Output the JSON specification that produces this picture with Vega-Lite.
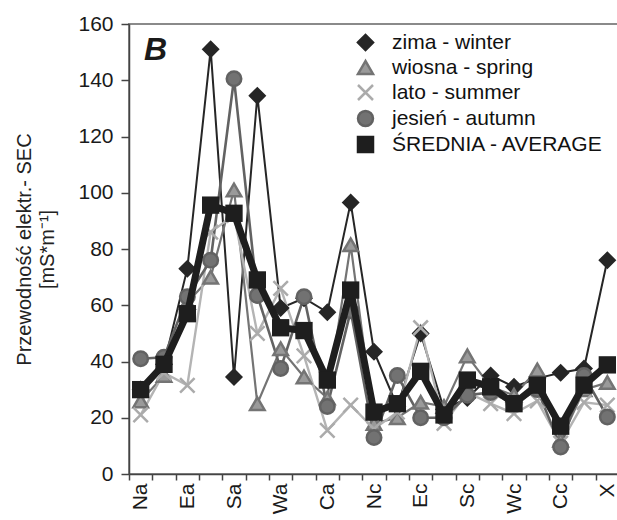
{
  "$schema": "https://vega.github.io/schema/vega-lite/v6.json",
  "width": 490,
  "height": 450,
  "autosize": {"type": "none"},
  "padding": {"left": 129, "top": 24, "right": 0, "bottom": 46},
  "background": "white",
  "title": {"text": "B", "orient": "top", "anchor": "start", "frame": "group", "fontSize": 32, "fontWeight": "bold", "fontStyle": "italic", "color": "#1a1a1a", "baseline": "top", "offset": 0, "dx": 15, "dy": 54},
  "config": {
    "font": "Liberation Sans",
    "view": {"stroke": "#8a8a8a", "strokeWidth": 2}
  },
  "datasets": {
    "seasons": [
      {"cat": "Na", "series": "zima - winter", "v": 30},
      {"cat": "Nb", "series": "zima - winter", "v": 39},
      {"cat": "Ea", "series": "zima - winter", "v": 73},
      {"cat": "Eb", "series": "zima - winter", "v": 151},
      {"cat": "Sa", "series": "zima - winter", "v": 34.5},
      {"cat": "Sb", "series": "zima - winter", "v": 134.5},
      {"cat": "Wa", "series": "zima - winter", "v": 59},
      {"cat": "Wb", "series": "zima - winter", "v": 62.5},
      {"cat": "Ca", "series": "zima - winter", "v": 57.5},
      {"cat": "Cb", "series": "zima - winter", "v": 96.5},
      {"cat": "Nc", "series": "zima - winter", "v": 43.5},
      {"cat": "Nd", "series": "zima - winter", "v": 24},
      {"cat": "Ec", "series": "zima - winter", "v": 50},
      {"cat": "Ed", "series": "zima - winter", "v": 23},
      {"cat": "Sc", "series": "zima - winter", "v": 27},
      {"cat": "Sd", "series": "zima - winter", "v": 35},
      {"cat": "Wc", "series": "zima - winter", "v": 31},
      {"cat": "Wd", "series": "zima - winter", "v": 34},
      {"cat": "Cc", "series": "zima - winter", "v": 36},
      {"cat": "Cd", "series": "zima - winter", "v": 37.5},
      {"cat": "X", "series": "zima - winter", "v": 76},

      {"cat": "Na", "series": "wiosna - spring", "v": 26},
      {"cat": "Nb", "series": "wiosna - spring", "v": 35},
      {"cat": "Ea", "series": "wiosna - spring", "v": 61},
      {"cat": "Eb", "series": "wiosna - spring", "v": 70},
      {"cat": "Sa", "series": "wiosna - spring", "v": 101},
      {"cat": "Sb", "series": "wiosna - spring", "v": 25},
      {"cat": "Wa", "series": "wiosna - spring", "v": 44.5},
      {"cat": "Wb", "series": "wiosna - spring", "v": 34.5},
      {"cat": "Ca", "series": "wiosna - spring", "v": 27},
      {"cat": "Cb", "series": "wiosna - spring", "v": 81.5},
      {"cat": "Nc", "series": "wiosna - spring", "v": 18},
      {"cat": "Nd", "series": "wiosna - spring", "v": 20},
      {"cat": "Ec", "series": "wiosna - spring", "v": 25.5},
      {"cat": "Ed", "series": "wiosna - spring", "v": 24},
      {"cat": "Sc", "series": "wiosna - spring", "v": 42},
      {"cat": "Sd", "series": "wiosna - spring", "v": 31},
      {"cat": "Wc", "series": "wiosna - spring", "v": 28},
      {"cat": "Wd", "series": "wiosna - spring", "v": 37},
      {"cat": "Cc", "series": "wiosna - spring", "v": 12},
      {"cat": "Cd", "series": "wiosna - spring", "v": 30},
      {"cat": "X", "series": "wiosna - spring", "v": 32.5},

      {"cat": "Na", "series": "lato - summer", "v": 21},
      {"cat": "Nb", "series": "lato - summer", "v": 36},
      {"cat": "Ea", "series": "lato - summer", "v": 31.5},
      {"cat": "Eb", "series": "lato - summer", "v": 86},
      {"cat": "Sa", "series": "lato - summer", "v": 92},
      {"cat": "Sb", "series": "lato - summer", "v": 50},
      {"cat": "Wa", "series": "lato - summer", "v": 66},
      {"cat": "Wb", "series": "lato - summer", "v": 42},
      {"cat": "Ca", "series": "lato - summer", "v": 15.5},
      {"cat": "Cb", "series": "lato - summer", "v": 24.5},
      {"cat": "Nc", "series": "lato - summer", "v": 16},
      {"cat": "Nd", "series": "lato - summer", "v": 22},
      {"cat": "Ec", "series": "lato - summer", "v": 52},
      {"cat": "Ed", "series": "lato - summer", "v": 18},
      {"cat": "Sc", "series": "lato - summer", "v": 29},
      {"cat": "Sd", "series": "lato - summer", "v": 25},
      {"cat": "Wc", "series": "lato - summer", "v": 21.5},
      {"cat": "Wd", "series": "lato - summer", "v": 26},
      {"cat": "Cc", "series": "lato - summer", "v": 11},
      {"cat": "Cd", "series": "lato - summer", "v": 25.5},
      {"cat": "X", "series": "lato - summer", "v": 24.5},

      {"cat": "Na", "series": "jesień - autumn", "v": 41},
      {"cat": "Nb", "series": "jesień - autumn", "v": 41.5},
      {"cat": "Ea", "series": "jesień - autumn", "v": 63},
      {"cat": "Eb", "series": "jesień - autumn", "v": 76},
      {"cat": "Sa", "series": "jesień - autumn", "v": 140.5},
      {"cat": "Sb", "series": "jesień - autumn", "v": 63.5},
      {"cat": "Wa", "series": "jesień - autumn", "v": 37.5},
      {"cat": "Wb", "series": "jesień - autumn", "v": 63},
      {"cat": "Ca", "series": "jesień - autumn", "v": 24},
      {"cat": "Cb", "series": "jesień - autumn", "v": 58},
      {"cat": "Nc", "series": "jesień - autumn", "v": 13},
      {"cat": "Nd", "series": "jesień - autumn", "v": 35},
      {"cat": "Ec", "series": "jesień - autumn", "v": 20},
      {"cat": "Ed", "series": "jesień - autumn", "v": 20},
      {"cat": "Sc", "series": "jesień - autumn", "v": 28},
      {"cat": "Sd", "series": "jesień - autumn", "v": 29},
      {"cat": "Wc", "series": "jesień - autumn", "v": 25},
      {"cat": "Wd", "series": "jesień - autumn", "v": 30},
      {"cat": "Cc", "series": "jesień - autumn", "v": 9.6},
      {"cat": "Cd", "series": "jesień - autumn", "v": 35},
      {"cat": "X", "series": "jesień - autumn", "v": 20.3},

      {"cat": "Na", "series": "ŚREDNIA - AVERAGE", "v": 30},
      {"cat": "Nb", "series": "ŚREDNIA - AVERAGE", "v": 39},
      {"cat": "Ea", "series": "ŚREDNIA - AVERAGE", "v": 57},
      {"cat": "Eb", "series": "ŚREDNIA - AVERAGE", "v": 95.6},
      {"cat": "Sa", "series": "ŚREDNIA - AVERAGE", "v": 92.7},
      {"cat": "Sb", "series": "ŚREDNIA - AVERAGE", "v": 69},
      {"cat": "Wa", "series": "ŚREDNIA - AVERAGE", "v": 52},
      {"cat": "Wb", "series": "ŚREDNIA - AVERAGE", "v": 51},
      {"cat": "Ca", "series": "ŚREDNIA - AVERAGE", "v": 33.4},
      {"cat": "Cb", "series": "ŚREDNIA - AVERAGE", "v": 65.4},
      {"cat": "Nc", "series": "ŚREDNIA - AVERAGE", "v": 22},
      {"cat": "Nd", "series": "ŚREDNIA - AVERAGE", "v": 25},
      {"cat": "Ec", "series": "ŚREDNIA - AVERAGE", "v": 36.5},
      {"cat": "Ed", "series": "ŚREDNIA - AVERAGE", "v": 21},
      {"cat": "Sc", "series": "ŚREDNIA - AVERAGE", "v": 33.4},
      {"cat": "Sd", "series": "ŚREDNIA - AVERAGE", "v": 31},
      {"cat": "Wc", "series": "ŚREDNIA - AVERAGE", "v": 25},
      {"cat": "Wd", "series": "ŚREDNIA - AVERAGE", "v": 31.6},
      {"cat": "Cc", "series": "ŚREDNIA - AVERAGE", "v": 17},
      {"cat": "Cd", "series": "ŚREDNIA - AVERAGE", "v": 31.6},
      {"cat": "X", "series": "ŚREDNIA - AVERAGE", "v": 38.8}
    ]
  },
  "data": {"name": "seasons"},
  "encoding": {
    "x": {
      "field": "cat",
      "type": "nominal",
      "sort": null,
      "scale": {"type": "band", "paddingInner": 0, "paddingOuter": 0,
        "domain": ["Na","Nb","Ea","Eb","Sa","Sb","Wa","Wb","Ca","Cb","Nc","Nd","Ec","Ed","Sc","Sd","Wc","Wd","Cc","Cd","X"]},
      "axis": {
        "title": null,
        "tickBand": "extent",
        "labelAngle": 270,
        "labelFontSize": 21,
        "labelColor": "#1a1a1a",
        "labelPadding": 3,
        "tickSize": 6,
        "tickColor": "#444",
        "tickWidth": 1.5,
        "domainColor": "#444",
        "domainWidth": 1.5,
        "labelExpr": "indexof(['Na','Ea','Sa','Wa','Ca','Nc','Ec','Sc','Wc','Cc','X'], datum.value) >= 0 ? datum.value : ''"
      }
    },
    "y": {
      "field": "v",
      "type": "quantitative",
      "scale": {"domain": [0, 160], "nice": false},
      "axis": {
        "title": ["Przewodność elektr.- SEC", "[mS*m⁻¹]"],
        "titleFontSize": 20,
        "titleFontWeight": "normal",
        "titleColor": "#222",
        "titleLineHeight": 23,
        "titlePadding": 20,
        "values": [0, 20, 40, 60, 80, 100, 120, 140, 160],
        "grid": false,
        "labelFontSize": 21,
        "labelColor": "#1a1a1a",
        "labelPadding": 8,
        "tickSize": 8,
        "tickColor": "#444",
        "tickWidth": 1.5,
        "domainColor": "#444",
        "domainWidth": 1.5
      }
    }
  },
  "layer": [
    {
      "transform": [{"filter": "datum.series !== 'ŚREDNIA - AVERAGE'"}],
      "mark": {"type": "line"},
      "encoding": {
        "detail": {"field": "series", "type": "nominal"},
        "color": {
          "field": "series", "type": "nominal", "legend": null,
          "scale": {"domain": ["ŚREDNIA - AVERAGE", "zima - winter", "wiosna - spring", "lato - summer", "jesień - autumn"],
                    "range": ["#1e1e1e", "#262626", "#747474", "#b4b4b4", "#626262"]}
        },
        "strokeWidth": {
          "field": "series", "type": "nominal", "legend": null,
          "scale": {"domain": ["zima - winter", "wiosna - spring", "lato - summer", "jesień - autumn"],
                    "range": [2, 2.6]}
        }
      }
    },
    {
      "transform": [{"filter": "datum.series !== 'ŚREDNIA - AVERAGE'"}],
      "mark": {"type": "point", "size": 210, "strokeWidth": 2.5, "opacity": 1},
      "encoding": {
        "shape": {
          "field": "series", "type": "nominal",
          "scale": {"domain": ["zima - winter", "wiosna - spring", "lato - summer", "jesień - autumn", "ŚREDNIA - AVERAGE"],
                    "range": ["diamond", "triangle-up", "M-1,-1L1,1M-1,1L1,-1", "circle", "square"]},
          "legend": {"title": null, "orient": "none", "legendX": 226, "legendY": 8, "padding": 0, "symbolSize": 225, "symbolStrokeWidth": 2.5, "labelFontSize": 21, "labelColor": "#111", "labelOffset": 16, "labelLimit": 400, "rowPadding": 1}
        },
        "fill": {
          "field": "series", "type": "nominal",
          "scale": {"domain": ["zima - winter", "wiosna - spring", "lato - summer", "jesień - autumn", "ŚREDNIA - AVERAGE"],
                    "range": ["#262626", "#9a9a9a", "transparent", "#727272", "#1e1e1e"]},
          "legend": {"title": null, "orient": "none", "legendX": 226, "legendY": 8, "padding": 0, "symbolSize": 225, "symbolStrokeWidth": 2.5, "labelFontSize": 21, "labelColor": "#111", "labelOffset": 16, "labelLimit": 400, "rowPadding": 1}
        },
        "stroke": {
          "field": "series", "type": "nominal",
          "scale": {"domain": ["zima - winter", "wiosna - spring", "lato - summer", "jesień - autumn", "ŚREDNIA - AVERAGE"],
                    "range": ["#262626", "#747474", "#ababab", "#626262", "#1e1e1e"]},
          "legend": {"title": null, "orient": "none", "legendX": 226, "legendY": 8, "padding": 0, "symbolSize": 225, "symbolStrokeWidth": 2.5, "labelFontSize": 21, "labelColor": "#111", "labelOffset": 16, "labelLimit": 400, "rowPadding": 1}
        }
      }
    },
    {
      "transform": [{"filter": "datum.series === 'ŚREDNIA - AVERAGE'"}],
      "mark": {"type": "line", "color": "#1e1e1e", "strokeWidth": 7},
      "encoding": {}
    },
    {
      "transform": [{"filter": "datum.series === 'ŚREDNIA - AVERAGE'"}],
      "mark": {"type": "point", "shape": "square", "size": 300, "filled": true, "color": "#1e1e1e", "opacity": 1},
      "encoding": {}
    }
  ]
}
